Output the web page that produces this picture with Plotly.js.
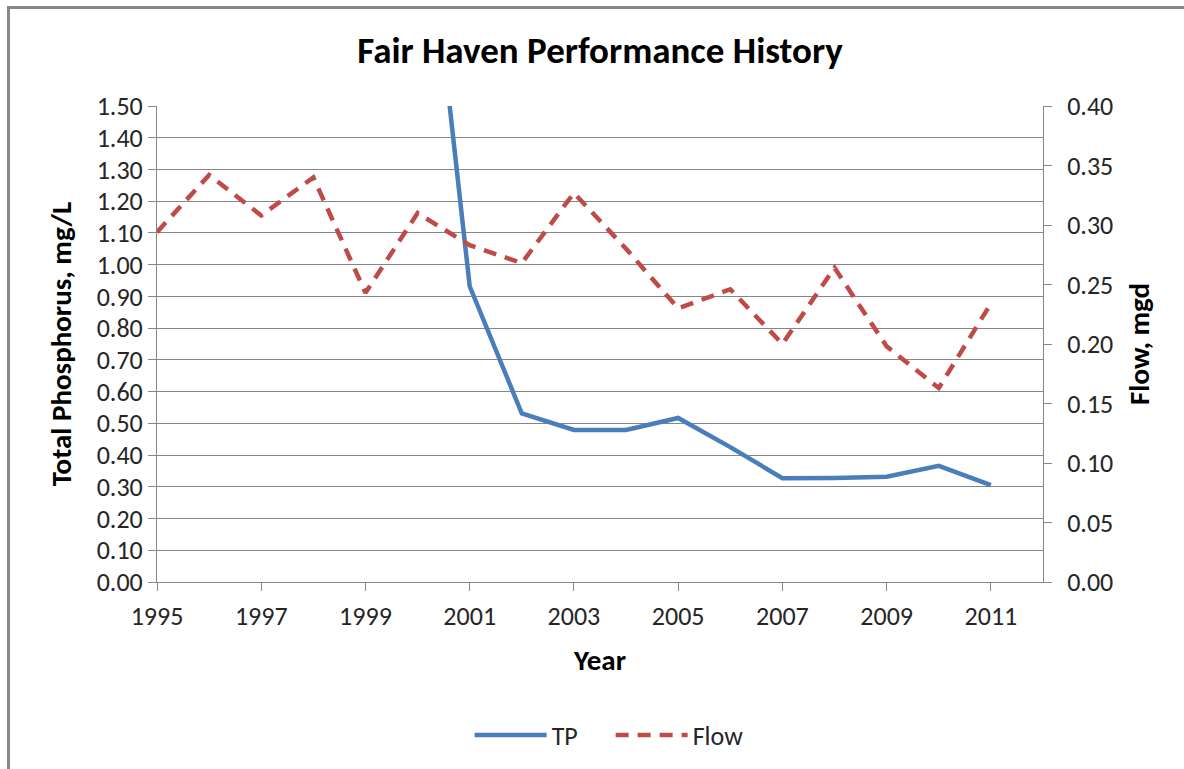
<!DOCTYPE html>
<html>
<head>
<meta charset="utf-8">
<script src="https://cdn.plot.ly/plotly-3.0.1.min.js"></script>
<style>
  html, body { margin: 0; padding: 0; background: #fff; }
  #wrap { position: relative; width: 1184px; height: 769px; overflow: hidden; }
  #frame { position: absolute; left: 7px; top: 6px; width: 1300px; height: 900px;
           border-left: 3px solid #888888; border-top: 3px solid #888888; box-sizing: border-box; pointer-events: none; }
  #chart { position: absolute; left: 0; top: 0; width: 1184px; height: 769px; }
</style>
</head>
<body>
<div id="wrap">
  <div id="chart"></div>
  <div id="frame"></div>
</div>
<script>
// Data
const years = [1995, 1996, 1997, 1998, 1999, 2000, 2001, 2002, 2003, 2004, 2005, 2006, 2007, 2008, 2009, 2010, 2011];
// TP values for 1995-1999 lie above the visible axis range and cannot be read
const tpValues = [null, null, null, null, null, 2.41, 0.932, 0.531, 0.479, 0.479, 0.517, 0.425, 0.327, 0.328, 0.332, 0.366, 0.305];
const flowValues = [0.294, 0.342, 0.308, 0.340, 0.243, 0.310, 0.283, 0.268, 0.327, 0.280, 0.230, 0.246, 0.200, 0.264, 0.198, 0.163, 0.234];
const leftTicks = [0, 0.1, 0.2, 0.3, 0.4, 0.5, 0.6, 0.7, 0.8, 0.9, 1.0, 1.1, 1.2, 1.3, 1.4, 1.5];
const rightTicks = [0, 0.05, 0.10, 0.15, 0.20, 0.25, 0.30, 0.35, 0.40];

const FONT = "Carlito, Lato, 'Liberation Sans', sans-serif";
const AXC = '#868686';
const TICKFONT = { family: FONT, size: 26, color: '#262626' };
const AXTITLEFONT = { family: FONT, size: 29, color: '#000000' };

const traces = [
  { x: years, y: tpValues, name: 'TP', type: 'scatter', mode: 'lines', yaxis: 'y',
    line: { color: '#4A7EBB', width: 4.5 }, connectgaps: false },
  { x: years, y: flowValues, name: 'Flow', type: 'scatter', mode: 'lines', yaxis: 'y2',
    line: { color: '#BE4B48', width: 4.5, dash: '13px,9px' } }
];

const layout = {
  width: 1184, height: 769,
  paper_bgcolor: 'rgba(0,0,0,0)', plot_bgcolor: '#ffffff',
  margin: { l: 157, r: 141, t: 106, b: 186 },
  font: { family: FONT, size: 26, color: '#262626' },
  title: { text: '<b>Fair Haven Performance History</b>', font: { family: FONT, size: 37, color: '#000000' },
           x: 0.5, xref: 'paper', xanchor: 'center', y: 1 - 50/769, yref: 'container', yanchor: 'middle' },
  xaxis: {
    range: [1995, 2012], tick0: 1995, dtick: 2, tickmode: 'linear',
    showgrid: false, zeroline: false, showline: true, linecolor: AXC, linewidth: 1,
    ticks: 'outside', ticklen: 8, tickcolor: AXC, tickwidth: 1,
    tickfont: TICKFONT, ticklabelstandoff: 3,
    title: { text: '<b>Year</b>', font: AXTITLEFONT, standoff: 18 },
    automargin: false, fixedrange: true
  },
  yaxis: {
    range: [0, 1.5], tickvals: leftTicks, ticktext: leftTicks.map(v => v.toFixed(2)),
    showgrid: true, gridcolor: AXC, gridwidth: 1, zeroline: false,
    showline: true, linecolor: AXC, linewidth: 1,
    ticks: 'outside', ticklen: 8, tickcolor: AXC, tickwidth: 1,
    tickfont: TICKFONT,
    title: { text: '<b>Total Phosphorus, mg/L</b>', font: AXTITLEFONT, standoff: 16 },
    automargin: false, fixedrange: true
  },
  yaxis2: {
    range: [0, 0.4], tickvals: rightTicks, ticktext: rightTicks.map(v => v.toFixed(2)),
    overlaying: 'y', side: 'right', showgrid: false, zeroline: false,
    showline: true, linecolor: AXC, linewidth: 1,
    ticks: 'outside', ticklen: 8, tickcolor: AXC, tickwidth: 1,
    tickfont: TICKFONT, ticklabelstandoff: 10,
    title: { text: '<b>Flow, mgd</b>', font: AXTITLEFONT, standoff: 16 },
    automargin: false, fixedrange: true
  },
  showlegend: true,
  legend: { orientation: 'h', x: 0.512, xanchor: 'center', y: -152/477, yanchor: 'middle',
            font: { family: FONT, size: 26, color: '#262626' }, bgcolor: 'rgba(0,0,0,0)',
            itemwidth: 72, entrywidth: 54, entrywidthmode: 'pixels' }
};

Plotly.newPlot('chart', traces, layout, { displayModeBar: false, staticPlot: true });
</script>
</body>
</html>
